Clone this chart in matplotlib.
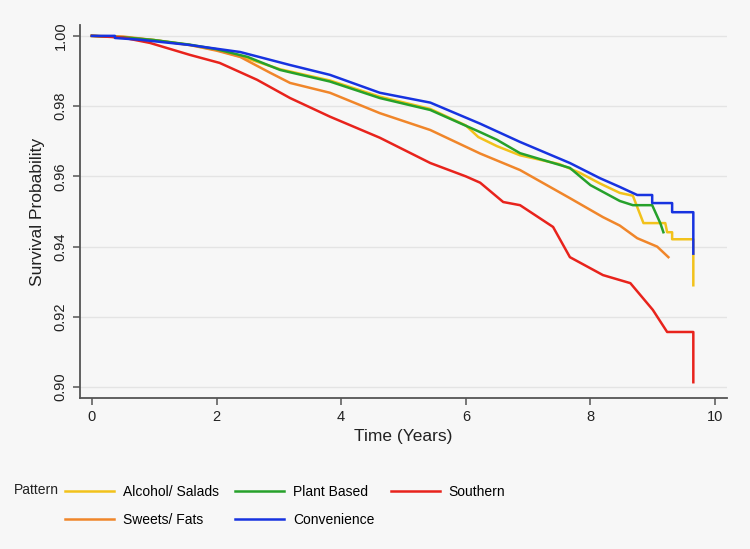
import matplotlib
matplotlib.use('Agg')
import matplotlib.pyplot as plt

plt.rcParams['font.family'] = ['Liberation Sans', 'DejaVu Sans']

# Kaplan-Meier curves (time in years, survival)
alcohol_t = [0, 0.5, 1.0, 1.57, 2.0, 2.5, 3.02, 3.82, 4.62, 5.43, 6.0, 6.2, 6.5, 6.87,
             7.5, 7.83, 8.15, 8.47, 8.68, 8.85, 9.2, 9.23, 9.31, 9.31, 9.65, 9.65]
alcohol_s = [1.0, 0.9996, 0.9988, 0.9974, 0.996, 0.9935, 0.9905, 0.9873, 0.9827, 0.9792,
             0.9745, 0.9712, 0.9686, 0.966, 0.9635, 0.961, 0.958, 0.9553, 0.9545, 0.9467,
             0.9467, 0.9441, 0.9441, 0.9421, 0.9421, 0.929]

sweets_t = [0, 0.5, 1.0, 1.57, 2.0, 2.38, 2.86, 3.18, 3.82, 4.62, 5.43, 6.23, 6.87, 7.67,
            8.2, 8.47, 8.75, 9.07, 9.25]
sweets_s = [1.0, 0.9998, 0.9988, 0.9974, 0.9958, 0.994, 0.9895, 0.9866, 0.9838, 0.978,
            0.9732, 0.9665, 0.9618, 0.9538, 0.9484, 0.946, 0.9424, 0.940, 0.937]

plant_t = [0, 0.5, 1.0, 1.57, 2.0, 2.5, 3.02, 3.82, 4.62, 5.43, 6.23, 6.5, 6.87, 7.67,
           8.0, 8.47, 8.68, 8.99, 9.12, 9.17]
plant_s = [1.0, 0.9996, 0.9988, 0.9975, 0.9962, 0.994, 0.9903, 0.987, 0.9823, 0.9789,
           0.9726, 0.9704, 0.9666, 0.9624, 0.9575, 0.953, 0.9518, 0.9518, 0.9467, 0.9441]

southern_t = [0, 0.5, 0.93, 1.57, 2.05, 2.65, 3.18, 3.82, 4.62, 5.43, 6.0, 6.23, 6.6,
              6.87, 7.4, 7.67, 8.2, 8.64, 9.0, 9.23, 9.65, 9.65]
southern_s = [1.0, 0.9995, 0.998, 0.9946, 0.9923, 0.9875, 0.9823, 0.977, 0.971, 0.9638,
              0.960, 0.9582, 0.9527, 0.9518, 0.9456, 0.937, 0.9319, 0.9296, 0.922, 0.9157,
              0.9157, 0.9014]

conv_t = [0, 0.37, 0.37, 0.77, 1.57, 2.38, 3.18, 3.82, 4.62, 5.43, 6.23, 6.87, 7.67,
          8.15, 8.47, 8.75, 8.99, 8.99, 9.31, 9.31, 9.65, 9.65]
conv_s = [1.0, 1.0, 0.9994, 0.9989, 0.9974, 0.9954, 0.9917, 0.9889, 0.9838, 0.981,
          0.975, 0.9698, 0.9638, 0.9595, 0.957, 0.9547, 0.9547, 0.9524, 0.9524, 0.9498,
          0.9498, 0.938]

x_ticks = [0, 2, 4, 6, 8, 10]
y_ticks = [0.90, 0.92, 0.94, 0.96, 0.98, 1.00]

bg = '#f7f7f7'
fig = plt.figure(figsize=(7.5, 5.49), dpi=100, facecolor=bg)
ax = fig.add_axes([0.1067, 0.275, 0.8626, 0.6795], facecolor=bg)

for y in y_ticks:
    ax.axhline(y, color='#e4e4e4', lw=1.0, zorder=0)

h_alc, = ax.plot(alcohol_t, alcohol_s, color='#f2c21b', lw=1.8, label='Alcohol/ Salads')
h_swt, = ax.plot(sweets_t, sweets_s, color='#f0862a', lw=1.8, label='Sweets/ Fats')
h_pla, = ax.plot(plant_t, plant_s, color='#26a12b', lw=1.8, label='Plant Based')
h_sou, = ax.plot(southern_t, southern_s, color='#e8231c', lw=1.8, label='Southern')
h_con, = ax.plot(conv_t, conv_s, color='#1733e0', lw=1.8, label='Convenience')

ax.set_xlim(-0.19, 10.19)
ax.set_ylim(0.8969, 1.0031)
ax.set_xticks(x_ticks)
ax.set_yticks(y_ticks)
ax.set_yticklabels(['%.2f' % v for v in y_ticks], rotation=90, va='center')
ax.tick_params(axis='both', labelsize=10.5, length=5, width=1.1, color='#555555',
               labelcolor='#222222')
ax.tick_params(axis='y', pad=4)

for side in ['top', 'right']:
    ax.spines[side].set_visible(False)
for side in ['left', 'bottom']:
    ax.spines[side].set_color('#555555')
    ax.spines[side].set_linewidth(1.3)

ax.set_xlabel('Time (Years)', fontsize=12.5, color='#222222', labelpad=4)
ax.set_ylabel('Survival Probability', fontsize=12.5, color='#222222', labelpad=6)

fig.text(14 / 750, 1 - 490 / 549, 'Pattern', fontsize=10, va='center', ha='left',
         color='#222222')
fig.legend(handles=[h_alc, h_swt, h_pla, h_con, h_sou], ncol=3, frameon=False,
           loc='upper left', bbox_to_anchor=(65 / 750, 1 - 485 / 549),
           fontsize=10, handlelength=3.5, handletextpad=0.65, columnspacing=1.2,
           labelspacing=1.0, borderpad=0, borderaxespad=0)

fig.savefig('out.png', dpi=100, facecolor=bg)
